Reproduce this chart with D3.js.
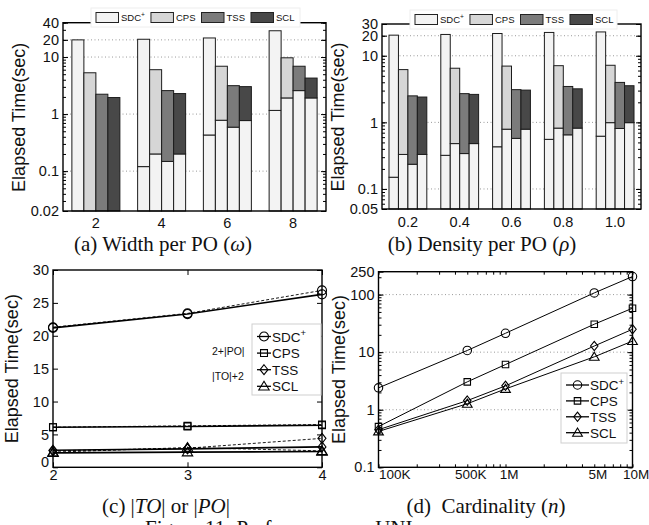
<!DOCTYPE html>
<html>
<head>
<meta charset="utf-8">
<script src="https://cdn.jsdelivr.net/npm/d3@7"></script>
<style>
  body { margin: 0; background: #fff; }
  svg { display: block; }
  text { font-family: "Liberation Sans", Arial, sans-serif; fill: #111; }
  .cap { font-family: "Liberation Serif", "Times New Roman", serif; }
</style>
</head>
<body>
<div id="chart"></div>
<script>
/* ============================
   Data
============================ */

const series = ["SDC", "CPS", "TSS", "SCL"];   // SDC gets a "+" superscript
const barColors = ["#f3f3f3", "#d6d6d6", "#7b7b7b", "#484848"];
const baseColor = "#f3f3f3";

// (a) width per PO : top of each bar and the split point (SDC+, CPS, TSS, SCL)
const widthCats = ["2", "4", "6", "8"];
const widthTotal = [[20, 5.3, 2.23, 1.95], [20.5, 6.0, 2.58, 2.29], [21.6, 6.9, 3.15, 3.03], [28.9, 9.7, 6.9, 4.28]];
const widthBase = [[0, 0, 0, 0], [0.12, 0.2, 0.148, 0.2], [0.43, 0.78, 0.59, 0.77], [1.16, 1.92, 2.58, 1.92]];

// (b) density per PO
const densityCats = ["0.2", "0.4", "0.6", "0.8", "1.0"];
const densityTotal = [[20.4, 6.2, 2.5, 2.4], [20.9, 6.5, 2.7, 2.63], [21.6, 7.0, 3.1, 3.05], [22.4, 7.1, 3.46, 3.19], [22.8, 7.2, 3.98, 3.55]];
const densityBase = [[0.15, 0.33, 0.235, 0.33], [0.32, 0.48, 0.34, 0.48], [0.43, 0.79, 0.575, 0.79], [0.556, 0.82, 0.65, 0.82], [0.62, 0.99, 0.81, 0.99]];

// (c) |TO| or |PO|
const orderSizes = [2, 3, 4];
const toSdc = [21.2, 23.3, 26.3];
const toCps = [6.1, 6.2, 6.4];
const toTss = [2.6, 2.8, 3.1];
const toScl = [2.2, 2.3, 2.4];
const poSdc = [21.3, 23.4, 26.9];
const poCps = [6.1, 6.3, 6.5];
const poTss = [2.5, 2.9, 4.4];
const poScl = [2.3, 3.0, 2.5];

// (d) cardinality
const cardN = [1e5, 5e5, 1e6, 5e6, 1e7];
const cardLabels = ["100K", "500K", "1M", "5M", "10M"];
const cardSdc = [2.4, 10.7, 21.3, 107, 206];
const cardCps = [0.51, 3.05, 6.1, 30.6, 58];
const cardTss = [0.45, 1.44, 2.6, 12.8, 25];
const cardScl = [0.42, 1.27, 2.3, 8.3, 15.6];

/* ============================
   Helpers
============================ */

const W = 649, H = 525;
const svg = d3.select("#chart").append("svg").attr("width", W).attr("height", H);
svg.append("rect").attr("width", W).attr("height", H).attr("fill", "#fff");

function logMinors(lo, hi) {
  const out = [];
  for (let e = Math.floor(Math.log10(lo)); e <= Math.ceil(Math.log10(hi)); e++) {
    for (let m = 1; m < 10; m++) {
      const v = +(m * Math.pow(10, e)).toPrecision(6);
      if (v >= lo && v <= hi) out.push(v);
    }
  }
  return out;
}

function seriesLabel(sel, name, size) {
  if (name === "SDC") {
    sel.append("tspan").text("SDC");
    sel.append("tspan").attr("dy", -size * 0.38).attr("font-size", size * 0.7).text("+");
  } else {
    sel.text(name);
  }
}

function styleAxis(g, fontSize) {
  g.select(".domain").remove();
  g.selectAll("line").attr("stroke", "#000");
  g.attr("font-family", null).attr("font-size", fontSize);
  g.selectAll("text").attr("fill", "#111");
}

function yAxes(g, y, x0, x1, major, labels, minor) {
  const left = g.append("g").attr("transform", `translate(${x0},0)`)
    .call(d3.axisLeft(y).tickValues(major).tickFormat((d, i) => labels[i]).tickSize(-5).tickPadding(4))
    .call(a => styleAxis(a, 14.5));
  g.append("g").attr("transform", `translate(${x1},0)`)
    .call(d3.axisRight(y).tickValues(major).tickFormat("").tickSize(-5))
    .call(a => styleAxis(a, 10));
  if (minor) {
    g.append("g").attr("transform", `translate(${x0},0)`)
      .call(d3.axisLeft(y).tickValues(minor).tickFormat("").tickSize(-3))
      .call(a => styleAxis(a, 10));
    g.append("g").attr("transform", `translate(${x1},0)`)
      .call(d3.axisRight(y).tickValues(minor).tickFormat("").tickSize(-3))
      .call(a => styleAxis(a, 10));
  }
  return left;
}

function grid(g, y, x0, x1, values) {
  g.append("g").selectAll("line")
    .data(values)
    .enter()
    .append("line")
    .attr("x1", x0).attr("x2", x1)
    .attr("y1", d => y(d)).attr("y2", d => y(d))
    .attr("stroke", "#9a9a9a")
    .attr("stroke-width", 1)
    .attr("stroke-dasharray", "1,2.5");
}

function frame(g, x0, y0, x1, y1) {
  g.append("rect")
    .attr("x", x0).attr("y", y0)
    .attr("width", x1 - x0).attr("height", y1 - y0)
    .attr("fill", "none").attr("stroke", "#000").attr("stroke-width", 1.4);
}

function yLabel(g, x, y) {
  g.append("text")
    .attr("transform", `translate(${x},${y}) rotate(-90)`)
    .attr("text-anchor", "middle")
    .attr("font-size", 18)
    .text("Elapsed Time(sec)");
}

/* ============================
   Bar panels (a), (b)
============================ */

function barPanel(cfg) {
  const g = svg.append("g");
  const x = d3.scaleBand().domain(cfg.cats).range([cfg.x0, cfg.x1])
    .paddingInner(0.27).paddingOuter(0.135);
  const xs = d3.scaleBand().domain(series).range([0, x.bandwidth()]);
  const y = d3.scaleLog().domain(cfg.yDomain).range([cfg.y1, cfg.y0]);
  const ymin = cfg.yDomain[0];

  grid(g, y, cfg.x0, cfg.x1, cfg.grid);

  const groups = g.selectAll("g.grp")
    .data(cfg.cats.map((c, i) => ({ cat: c, total: cfg.total[i], base: cfg.base[i] })))
    .enter()
    .append("g")
    .attr("transform", d => `translate(${x(d.cat)},0)`);

  series.forEach((s, k) => {
    // lower part
    groups.filter(d => d.base[k] > ymin)
      .append("rect")
      .attr("x", xs(s)).attr("width", xs.bandwidth())
      .attr("y", d => y(d.base[k]))
      .attr("height", d => y(ymin) - y(d.base[k]))
      .attr("fill", baseColor).attr("stroke", "#1c1c1c").attr("stroke-width", 1);
    // upper part
    groups.append("rect")
      .attr("x", xs(s)).attr("width", xs.bandwidth())
      .attr("y", d => y(d.total[k]))
      .attr("height", d => y(Math.max(d.base[k], ymin)) - y(d.total[k]))
      .attr("fill", barColors[k]).attr("stroke", "#1c1c1c").attr("stroke-width", 1);
  });

  yAxes(g, y, cfg.x0, cfg.x1, cfg.yTicks, cfg.yLabels, logMinors(cfg.yDomain[0], cfg.yDomain[1]));

  g.append("g").attr("transform", `translate(0,${cfg.y1})`)
    .call(d3.axisBottom(x).tickSize(0).tickPadding(cfg.xPad))
    .call(a => styleAxis(a, 14.5));

  frame(g, cfg.x0, cfg.y0, cfg.x1, cfg.y1);

  // legend
  const lg = g.append("g");
  lg.append("rect")
    .attr("x", cfg.leg.x).attr("y", cfg.leg.y)
    .attr("width", cfg.leg.w).attr("height", cfg.leg.h)
    .attr("fill", "#fff").attr("stroke", "#eeeeee");
  let lx = cfg.leg.x + 5;
  series.forEach((s, k) => {
    lg.append("rect")
      .attr("x", lx).attr("y", cfg.leg.y + (cfg.leg.h - 10) / 2)
      .attr("width", 22.5).attr("height", 10)
      .attr("fill", barColors[k]).attr("stroke", "#222").attr("stroke-width", 1);
    const t = lg.append("text")
      .attr("x", lx + 25).attr("y", cfg.leg.y + cfg.leg.h / 2 + 3.5)
      .attr("font-size", 9.5);
    seriesLabel(t, s, 9.5);
    lx += 25 + t.node().getComputedTextLength() + cfg.leg.gap;
  });

  yLabel(g, cfg.labX, (cfg.y0 + cfg.y1) / 2 + 0.5);
}

barPanel({
  cats: widthCats, total: widthTotal, base: widthBase,
  x0: 63, x1: 326, y0: 22.7, y1: 211,
  yDomain: [0.02, 40],
  yTicks: [0.02, 0.1, 1, 10, 20, 40], yLabels: ["0.02", "0.1", "1", "10", "20", "40"],
  grid: [0.1, 1, 10, 20],
  xPad: 7,
  leg: { x: 91, y: 8, w: 209, h: 19, gap: 6 },
  labX: 25
});

barPanel({
  cats: densityCats, total: densityTotal, base: densityBase,
  x0: 382, x1: 641, y0: 24, y1: 209,
  yDomain: [0.05, 30],
  yTicks: [0.05, 0.1, 1, 10, 20, 30], yLabels: ["0.05", "0.1", "1", "10", "20", "30"],
  grid: [0.1, 1, 10, 20],
  xPad: 8,
  leg: { x: 410, y: 10, w: 207, h: 19, gap: 6 },
  labX: 344
});

/* ============================
   Line panels (c), (d)
============================ */

const symDiamond = {
  draw(ctx, size) {
    const h = Math.sqrt(size) * 0.62, w = h * 0.8;
    ctx.moveTo(0, -h); ctx.lineTo(w, 0); ctx.lineTo(0, h); ctx.lineTo(-w, 0); ctx.closePath();
  }
};
const symTriangle = {
  draw(ctx, size) {
    const s = Math.sqrt(size) * 0.62;
    ctx.moveTo(0, -s); ctx.lineTo(s * 1.05, s * 0.75); ctx.lineTo(-s * 1.05, s * 0.75); ctx.closePath();
  }
};
const markers = [d3.symbolCircle, d3.symbolSquare, symDiamond, symTriangle];
const markerSize = [1, 0.75, 1, 1];

function drawLine(g, xs, ys, x, y, k, opt) {
  const line = d3.line().x((d, i) => x(xs[i])).y(d => y(d));
  g.append("path").datum(ys)
    .attr("d", line)
    .attr("fill", "none").attr("stroke", "#000")
    .attr("stroke-width", opt.width)
    .attr("stroke-dasharray", opt.dash || null);
  g.append("g").selectAll("path")
    .data(ys)
    .enter()
    .append("path")
    .attr("transform", (d, i) => `translate(${x(xs[i])},${y(d)})`)
    .attr("d", d3.symbol(markers[k], opt.size * markerSize[k]))
    .attr("fill", "none").attr("stroke", "#000").attr("stroke-width", 1.1);
}

function lineLegend(g, L, size) {
  g.append("rect")
    .attr("x", L.x).attr("y", L.y).attr("width", L.w).attr("height", L.h)
    .attr("fill", "#fff").attr("stroke", "#cfcfcf");
  series.forEach((s, k) => {
    const ly = L.y + L.first + k * L.step;
    g.append("line")
      .attr("x1", L.x + 5).attr("x2", L.x + 5 + L.len)
      .attr("y1", ly).attr("y2", ly)
      .attr("stroke", "#000").attr("stroke-width", 1.3);
    g.append("path")
      .attr("transform", `translate(${L.x + 5 + L.len / 2},${ly})`)
      .attr("d", d3.symbol(markers[k], size * markerSize[k]))
      .attr("fill", "none").attr("stroke", "#000").attr("stroke-width", 1.1);
    const t = g.append("text")
      .attr("x", L.x + 6 + L.len).attr("y", ly + 5)
      .attr("font-size", 13.5);
    seriesLabel(t, s, 13.5);
  });
}

// (c)
(function () {
  const g = svg.append("g");
  const x0 = 53, x1 = 322, y0 = 270, y1 = 467.3;
  const x = d3.scaleLinear().domain([2, 4]).range([x0, x1]);
  const y = d3.scaleLinear().domain([0, 30]).range([y1, y0]);
  const yt = [0, 5, 10, 15, 20, 25, 30];

  const left = yAxes(g, y, x0, x1, yt, yt.map(String), null);
  // the zero label sits a little above the corner, as in the original
  left.selectAll(".tick").filter(d => d === 0).select("text").attr("dy", "-0.05em");

  g.append("g").attr("transform", `translate(0,${y1})`)
    .call(d3.axisBottom(x).tickValues(orderSizes).tickFormat(d3.format("d")).tickSize(-5).tickPadding(2))
    .call(a => styleAxis(a, 14.5));
  g.append("g").attr("transform", `translate(0,${y0})`)
    .call(d3.axisTop(x).tickValues(orderSizes).tickFormat("").tickSize(-5))
    .call(a => styleAxis(a, 10));

  [poSdc, poCps, poTss, poScl].forEach((v, k) =>
    drawLine(g, orderSizes, v, x, y, k, { width: 0.9, dash: "3,2", size: 64 }));
  [toSdc, toCps, toTss, toScl].forEach((v, k) =>
    drawLine(g, orderSizes, v, x, y, k, { width: 1.6, size: 64 }));

  frame(g, x0, y0, x1, y1);

  lineLegend(g, { x: 252, y: 324, w: 69, h: 71, first: 12.5, step: 16.6, len: 14 }, 64);

  g.append("text").attr("x", 212).attr("y", 354.5).attr("font-size", 10.5).text("2+|PO|");
  g.append("text").attr("x", 212).attr("y", 380).attr("font-size", 10.5).text("|TO|+2");

  yLabel(g, 18, (y0 + y1) / 2);
})();

// (d)
(function () {
  const g = svg.append("g");
  const x0 = 378.5, x1 = 632.5, y0 = 271.7, y1 = 467.3;
  const x = d3.scaleLog().domain([1e5, 1e7]).range([x0, x1]);
  const y = d3.scaleLog().domain([0.1, 250]).range([y1, y0]);

  grid(g, y, x0, x1, [1, 10, 100]);
  yAxes(g, y, x0, x1, [0.1, 1, 10, 100, 250], ["0.1", "1", "10", "100", "250"], logMinors(0.1, 250));

  const xMinor = logMinors(1e5, 1e7);
  const bottom = g.append("g").attr("transform", `translate(0,${y1})`)
    .call(d3.axisBottom(x).tickValues(cardN).tickFormat((d, i) => cardLabels[i]).tickSize(0).tickPadding(2))
    .call(a => styleAxis(a, 13.5));
  // labels sit slightly right of their ticks; the first one starts at the corner
  bottom.selectAll(".tick text").attr("dx", 3);
  bottom.selectAll(".tick").filter(d => d === cardN[0]).select("text")
    .attr("text-anchor", "start").attr("dx", 0);
  g.append("g").attr("transform", `translate(0,${y1})`)
    .call(d3.axisBottom(x).tickValues(xMinor).tickFormat("").tickSize(-3))
    .call(a => styleAxis(a, 10));
  g.append("g").attr("transform", `translate(0,${y0})`)
    .call(d3.axisTop(x).tickValues(xMinor).tickFormat("").tickSize(-3))
    .call(a => styleAxis(a, 10));

  [cardSdc, cardCps, cardTss, cardScl].forEach((v, k) =>
    drawLine(g, cardN, v, x, y, k, { width: 1, size: 56 }));

  frame(g, x0, y0, x1, y1);

  lineLegend(g, { x: 561, y: 373, w: 66, h: 70, first: 12, step: 15.9, len: 23 }, 56);

  yLabel(g, 345, (y0 + y1) / 2);
})();

/* ============================
   Captions
============================ */

function caption(x, y, parts) {
  const t = svg.append("text").attr("class", "cap")
    .attr("x", x).attr("y", y).attr("text-anchor", "middle").attr("font-size", 21);
  parts.forEach(p => {
    const s = t.append("tspan").text(p.t);
    if (p.i) s.attr("font-style", "italic");
  });
}

caption(163, 251, [{ t: "(a) Width per PO (" }, { t: "ω", i: true }, { t: ")" }]);
caption(482, 251, [{ t: "(b) Density per PO (" }, { t: "ρ", i: true }, { t: ")" }]);
caption(166, 513, [{ t: "(c) |" }, { t: "TO", i: true }, { t: "| or |" }, { t: "PO", i: true }, { t: "|" }]);
caption(486, 513, [{ t: "(d)\u00a0 Cardinality (" }, { t: "n", i: true }, { t: ")" }]);

svg.append("text").attr("class", "cap")
  .attr("x", 145).attr("y", 535).attr("font-size", 21).attr("fill", "#444")
  .text("Figure 11: Performance on UNI");
</script>
</body>
</html>
